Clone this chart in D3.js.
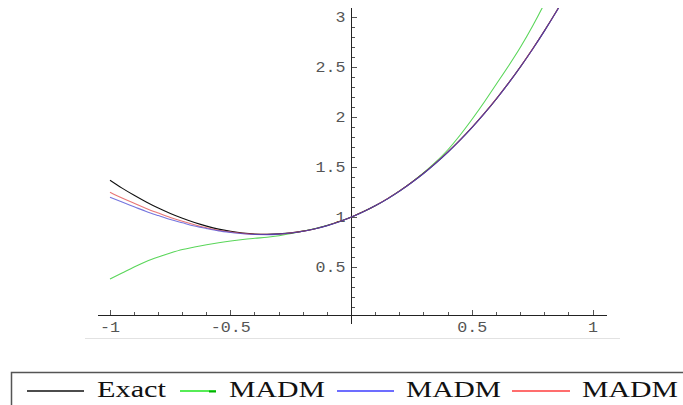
<!DOCTYPE html>
<html>
<head>
<meta charset="utf-8">
<script src="https://cdn.jsdelivr.net/npm/d3@7"></script>
<style>
  body { margin: 0; background: #fff; }
  svg { display: block; }
</style>
</head>
<body>
<svg id="chart" width="683" height="405"></svg>
<script>
// Values.
const xs = [-1, -0.95, -0.9, -0.85, -0.8, -0.75, -0.7, -0.65, -0.6, -0.55, -0.5, -0.45, -0.4, -0.35, -0.3, -0.25, -0.2, -0.15, -0.1, -0.05,
  0, 0.05, 0.1, 0.15, 0.2, 0.25, 0.3, 0.35, 0.4, 0.45, 0.5, 0.55, 0.6, 0.65, 0.7, 0.75, 0.8, 0.85, 0.9];
const exact = [1.368, 1.289, 1.217, 1.150, 1.089, 1.035, 0.987, 0.945, 0.909, 0.879, 0.857, 0.840, 0.830, 0.827, 0.831, 0.841, 0.859, 0.883, 0.915, 0.954,
  1.000, 1.054, 1.115, 1.184, 1.261, 1.347, 1.440, 1.542, 1.652, 1.771, 1.899, 2.036, 2.182, 2.338, 2.504, 2.680, 2.866, 3.062, 3.270];
const madmGreen = [0.38, 0.44, 0.50, 0.555, 0.60, 0.64, 0.675, 0.70, 0.722, 0.742, 0.760, 0.775, 0.787, 0.798, 0.812, 0.835, 0.86, 0.885, 0.916, 0.955,
  1.0, 1.054, 1.115, 1.184, 1.262, 1.349, 1.445, 1.553, 1.675, 1.82, 1.98, 2.15, 2.33, 2.51, 2.70, 2.91, 3.14, 3.39, 3.66];
const madmBlue = [1.198, 1.149, 1.102, 1.055, 1.014, 0.975, 0.942, 0.910, 0.884, 0.861, 0.845, 0.832, 0.825, 0.824, 0.829, 0.840, 0.858, 0.882, 0.914, 0.953,
  0.999, 1.053, 1.114, 1.183, 1.260, 1.345, 1.438, 1.540, 1.650, 1.769, 1.897, 2.034, 2.180, 2.336, 2.502, 2.678, 2.864, 3.060, 3.268];
const madmRed = [1.248, 1.189, 1.137, 1.085, 1.039, 0.995, 0.957, 0.923, 0.893, 0.868, 0.850, 0.836, 0.828, 0.826, 0.830, 0.841, 0.859, 0.883, 0.915, 0.954,
  1.001, 1.055, 1.116, 1.185, 1.262, 1.348, 1.441, 1.543, 1.653, 1.772, 1.900, 2.037, 2.183, 2.339, 2.505, 2.681, 2.867, 3.063, 3.271];

const xTickLabels = ['-1', '-0.5', '0.5', '1'];
const xTickValues = [-1, -0.5, 0.5, 1];
const yTickLabels = ['0.5', '1', '1.5', '2', '2.5', '3'];
const yTickValues = [0.5, 1, 1.5, 2, 2.5, 3];
const legendLabels = ['Exact', 'MADM', 'MADM', 'MADM'];
const seriesColors = {exact: '#111111', green: '#5ad65a', blue: '#3a3ad0', red: '#e04848'};
const legendColors = ['#111111', '#1ee61e', '#3c3cff', '#ff3c3c'];

const svg = d3.select('#chart');

// Scales.
const x = d3.scaleLinear().domain([-1, 1]).range([110, 593]);
const y = d3.scaleLinear().domain([0, 3]).range([317, 17]);
const xMin = -1.05, xMax = 1.06, yTop = 3.09, yBottom = -0.07, yOrigin = 0.02;

svg.append('defs').append('clipPath').attr('id', 'plot')
  .append('rect')
  .attr('x', x(xMin)).attr('y', y(yTop))
  .attr('width', x(xMax) - x(xMin)).attr('height', y(yBottom) - y(yTop));

// Axes (Mathematica style, crossing near the origin).
const axes = svg.append('g').attr('stroke', '#222').attr('stroke-width', 1).attr('shape-rendering', 'crispEdges');
axes.append('line').attr('x1', x(xMin)).attr('x2', x(xMax)).attr('y1', y(yOrigin)).attr('y2', y(yOrigin));
axes.append('line').attr('x1', x(0)).attr('x2', x(0)).attr('y1', y(yTop)).attr('y2', y(yBottom));

// Ticks: every 0.1, majors at the labelled values.
const isMajor = (vals, d) => vals.some(v => Math.abs(v - d) < 1e-9);
const minorX = d3.range(-10, 11).map(d => d / 10).filter(d => d !== 0);
axes.append('g').selectAll('line').data(minorX).join('line')
  .attr('x1', d => x(d)).attr('x2', d => x(d))
  .attr('y1', y(yOrigin))
  .attr('y2', d => y(yOrigin) - (isMajor(xTickValues, d) ? 5 : 3))
  .attr('stroke', '#555');
const minorY = d3.range(1, 31).map(d => d / 10);
axes.append('g').selectAll('line').data(minorY).join('line')
  .attr('y1', d => y(d)).attr('y2', d => y(d))
  .attr('x1', x(0))
  .attr('x2', d => x(0) + (isMajor(yTickValues, d) ? 5 : 3))
  .attr('stroke', '#555');

const tickFont = "'Liberation Mono', 'DejaVu Sans Mono', monospace";
svg.append('g').selectAll('text').data(xTickValues).join('text')
  .attr('x', d => x(d)).attr('y', 332)
  .attr('text-anchor', 'middle')
  .attr('font-family', tickFont).attr('font-size', 15).attr('fill', '#555')
  .attr('textLength', (d, i) => xTickLabels[i].length * 10)
  .attr('lengthAdjust', 'spacingAndGlyphs')
  .text((d, i) => xTickLabels[i]);
svg.append('g').selectAll('text').data(yTickValues).join('text')
  .attr('x', x(0) - 6).attr('y', d => y(d) + 5)
  .attr('text-anchor', 'end')
  .attr('font-family', tickFont).attr('font-size', 15).attr('fill', '#555')
  .attr('textLength', (d, i) => yTickLabels[i].length * 10)
  .attr('lengthAdjust', 'spacingAndGlyphs')
  .text((d, i) => yTickLabels[i]);

// Curves: green first, then exact, then red and blue on top.
const line = d3.line()
  .x(d => x(d[0]))
  .y(d => y(d[1]))
  .curve(d3.curveMonotoneX);
const curves = svg.append('g').attr('clip-path', 'url(#plot)');
const drawn = [
  [madmGreen, seriesColors.green, 1],
  [exact, seriesColors.exact, 1],
  [madmRed, seriesColors.red, 0.75],
  [madmBlue, seriesColors.blue, 0.7]
];
drawn.forEach(([vals, color, op]) => {
  curves.append('path')
    .datum(xs.map((v, i) => [v, vals[i]]))
    .attr('d', line)
    .attr('fill', 'none')
    .attr('stroke', color)
    .attr('stroke-width', 1.1)
    .attr('stroke-opacity', op);
});

// Faint separator under the plot.
svg.append('line').attr('x1', 85).attr('x2', 620).attr('y1', 338.5).attr('y2', 338.5)
  .attr('stroke', '#e2e2e2').attr('stroke-width', 1);

// Legend.
const legend = svg.append('g');
legend.append('rect')
  .attr('x', 11.5).attr('y', 372.5).attr('width', 700).attr('height', 60)
  .attr('fill', 'none').attr('stroke', '#555').attr('stroke-width', 1.5);
const legendLines = [[27, 84], [180, 216], [337, 394], [512, 570]];
const legendText = [[97, 166], [229, 325], [406, 501], [582, 678]];
legendLabels.forEach((label, i) => {
  legend.append('line')
    .attr('x1', legendLines[i][0]).attr('x2', legendLines[i][1])
    .attr('y1', 391).attr('y2', 391)
    .attr('stroke', legendColors[i]).attr('stroke-width', 1.4);
  legend.append('text')
    .attr('x', legendText[i][0]).attr('y', 397)
    .attr('font-family', "'Liberation Serif', 'DejaVu Serif', serif")
    .attr('font-size', 23).attr('fill', '#111')
    .attr('textLength', legendText[i][1] - legendText[i][0])
    .attr('lengthAdjust', 'spacingAndGlyphs')
    .text(label);
});
// The short darker dash at the end of the green legend sample.
legend.append('line')
  .attr('x1', 209).attr('x2', 216).attr('y1', 391.5).attr('y2', 391.5)
  .attr('stroke', '#00b400').attr('stroke-width', 2);
</script>
</body>
</html>
